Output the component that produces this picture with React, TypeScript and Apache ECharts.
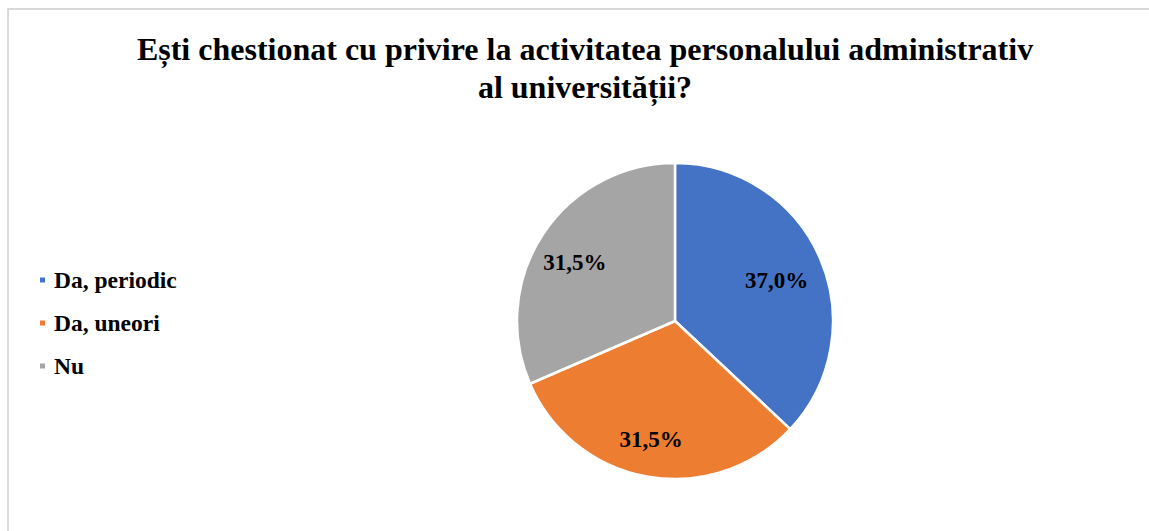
import React, { useEffect, useRef } from "react";
import * as echarts from "echarts";

const titleLines = [
  "Ești chestionat cu privire la activitatea personalului administrativ",
  "al universității?",
];
const categories = ["Da, periodic", "Da, uneori", "Nu"];
const values = [37.0, 31.5, 31.5];
const colors = ["#4472C4", "#ED7D31", "#A5A5A5"];

const FONT = '"Liberation Serif", "Times New Roman", serif';

export default function App() {
  const ref = useRef<HTMLDivElement>(null);
  useEffect(() => {
    if (!ref.current) return;
    const chart = echarts.init(ref.current, undefined, { renderer: "svg" });
    const data = categories.map((name, i) => ({
      name,
      value: values[i],
      itemStyle: { color: colors[i] },
    }));
    chart.setOption({
      animation: false,
      backgroundColor: "transparent",
      graphic: [
        {
          type: "text",
          x: 585,
          y: 30,
          silent: true,
          style: {
            text: titleLines.join("\n"),
            align: "center",
            verticalAlign: "top",
            fontFamily: FONT,
            fontWeight: "bold",
            fontSize: 32,
            lineHeight: 38,
            fill: "#000000",
          },
        },
      ],
      legend: {
        orient: "vertical",
        left: 38,
        top: 268,
        padding: 0,
        icon: "rect",
        itemWidth: 7,
        itemHeight: 7,
        itemGap: 19,
        data: categories,
        textStyle: {
          fontFamily: FONT,
          fontWeight: "bold",
          fontSize: 23.5,
          lineHeight: 22,
          color: "#000000",
          padding: [0, 0, 0, 3],
        },
      },
      series: [
        {
          type: "pie",
          center: [675, 321],
          radius: 158,
          startAngle: 90,
          clockwise: true,
          data,
          label: { show: false },
          labelLine: { show: false },
          itemStyle: { borderColor: "#ffffff", borderWidth: 2.5 },
          emphasis: { disabled: true },
        },
        {
          type: "pie",
          center: [675, 321],
          radius: [66, 158],
          startAngle: 90,
          clockwise: true,
          silent: true,
          legendHoverLink: false,
          data: categories.map((name, i) => ({
            name,
            value: values[i],
            itemStyle: { color: "rgba(0,0,0,0)" },
          })),
          label: {
            show: true,
            position: "inside",
            offset: [-4, 5],
            formatter: (p: any) => p.value.toFixed(1).replace(".", ",") + "%",
            fontFamily: FONT,
            fontWeight: "bold",
            fontSize: 23,
            color: "#000000",
          },
          labelLine: { show: false },
          itemStyle: { borderWidth: 0 },
          emphasis: { disabled: true },
        },
      ],
    });
    return () => chart.dispose();
  }, []);

  return (
    <div style={{ position: "fixed", left: 0, top: 0, width: 1149, height: 531, background: "#ffffff" }}>
      <div
        style={{
          position: "absolute",
          left: 7,
          top: 8,
          width: 1142,
          height: 523,
          boxSizing: "border-box",
          borderTop: "2px solid #d9d9d9",
          borderLeft: "2px solid #d9d9d9",
        }}
      />
      <div ref={ref} style={{ position: "absolute", left: 0, top: 0, width: 1149, height: 531 }} />
    </div>
  );
}
